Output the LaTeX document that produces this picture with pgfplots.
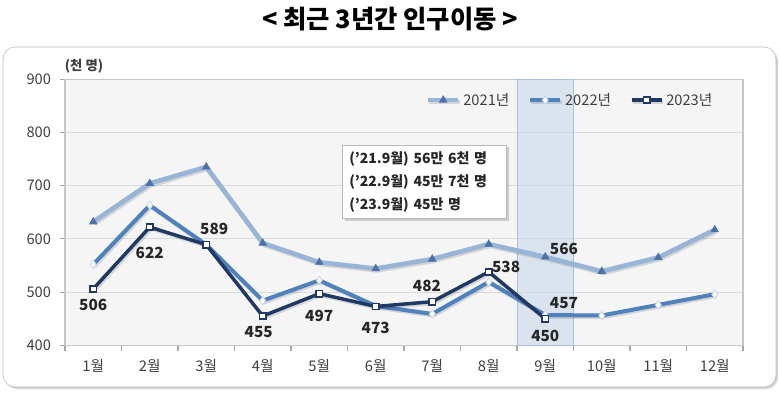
\documentclass[border=0pt]{standalone}
\usepackage{pgfplots}
\pgfplotsset{compat=1.18}
\usepackage{fontspec}
\setmainfont{Noto Sans CJK KR}
\usetikzlibrary{shadows}
\definecolor{c21}{HTML}{98B5D8}
\definecolor{c21m}{HTML}{4A72A8}
\definecolor{c22}{HTML}{4F81BD}
\definecolor{c22f}{HTML}{C5D6EC}
\definecolor{c23}{HTML}{1F3864}
\definecolor{band}{HTML}{C9D7EA}
\definecolor{bandline}{HTML}{A9C0DC}
\definecolor{txt}{HTML}{404040}
\tikzset{lshadow/.style={preaction={draw=black, opacity=0.13, transform canvas={xshift=1pt,yshift=-1.3pt}}}}
\begin{document}
\begin{tikzpicture}
\path[use as bounding box] (0pt,0pt) rectangle (585pt,295.5pt);
\node[font=\bfseries\fontsize{19}{22}\selectfont] at (292.5pt,281.5pt) {< 최근 3년간 인구이동 >};
\draw[gray!55, rounded corners=9pt, fill=white, drop shadow={shadow xshift=1.5pt,shadow yshift=-1.5pt,opacity=0.35}] (2.25pt,260.25pt) rectangle (582pt,5.25pt);
\node[font=\bfseries\fontsize{10}{12}\selectfont, text=txt] at (63pt,245.5pt) {(천 명)};
\begin{axis}[
  at={(48.75pt,36.5pt)}, anchor=south west, scale only axis,
  width=508.5pt, height=199.7pt,
  xmin=0.5, xmax=12.5, ymin=400, ymax=900,
  xtick={1,...,12},
  xticklabels={1월,2월,3월,4월,5월,6월,7월,8월,9월,10월,11월,12월},
  minor xtick={0.5,1.5,...,12.5},
  major x tick style={draw=none},
  minor x tick style={draw=gray!70, line width=0.8pt},
  minor tick length=4pt,
  ytick={400,500,...,900},
  major tick length=4pt,
  y tick style={draw=gray!70, line width=0.8pt},
  tick align=outside,
  tick pos=left,
  ymajorgrids,
  major grid style={gray!30, line width=0.6pt},
  axis line style={gray!45, line width=0.8pt},
  axis background/.style={fill=gray!8},
  /pgf/number format/assume math mode=true,
  tick label style={font=\fontsize{11}{13}\selectfont, text=txt},
  yticklabel style={xshift=-3pt},
  xticklabel style={yshift=-3pt},
  legend style={at={(0.965,0.921)}, anchor=east, draw=none, fill=none,
    font=\fontsize{11}{13}\selectfont, text=txt,
    /tikz/every even column/.append style={column sep=12pt}},
  legend columns=3,
  legend image code/.code={\draw[mark repeat=2,mark phase=2,#1] plot coordinates {(0cm,0cm) (0.4cm,0cm) (0.8cm,0cm)};},
  clip=false,
]
\fill[band, opacity=0.6] (axis cs:8.5,400) rectangle (axis cs:9.5,900);
\draw[bandline, line width=0.6pt] (axis cs:8.5,400) rectangle (axis cs:9.5,900);

\addplot[c21, line width=3.5pt, lshadow, mark=triangle*, mark size=3.2pt,
  mark options={fill=c21m, draw=c21m, line width=0.5pt}]
  coordinates {(1,632) (2,704) (3,735) (4,592) (5,556) (6,544) (7,562) (8,590) (9,566) (10,539) (11,565) (12,617)};
\addlegendentry{2021년}
\addplot[c22, line width=3pt, lshadow, mark=diamond*, mark size=3pt,
  mark options={fill=white, draw=c22f, line width=0.6pt}]
  coordinates {(1,552) (2,663) (3,589) (4,484) (5,522) (6,474) (7,459) (8,519) (9,457) (10,456) (11,476) (12,496)};
\addlegendentry{2022년}
\addplot[c23, line width=2.6pt, lshadow, mark=square*, mark size=2.3pt,
  mark options={fill=white, draw=c23, line width=1.2pt}]
  coordinates {(1,506) (2,622) (3,589) (4,455) (5,497) (6,473) (7,482) (8,538) (9,450)};
\addlegendentry{2023년}

\begin{scope}[every node/.style={font=\bfseries\fontsize{11.5}{13}\selectfont, text=black!85}]
\node[yshift=-12pt] at (axis cs:1,506) {506};
\node[yshift=-19pt] at (axis cs:2,622) {622};
\node[yshift=12pt, xshift=6pt] at (axis cs:3,589) {589};
\node[yshift=-12pt, xshift=-3pt] at (axis cs:4,455) {455};
\node[yshift=-17pt] at (axis cs:5,497) {497};
\node[yshift=-16pt] at (axis cs:6,473) {473};
\node[yshift=12pt, xshift=-4pt] at (axis cs:7,482) {482};
\node[yshift=4pt, xshift=13pt] at (axis cs:8,538) {538};
\node[yshift=-13pt] at (axis cs:9,450) {450};
\node[yshift=6pt, xshift=14pt] at (axis cs:9,566) {566};
\node[yshift=9pt, xshift=14pt] at (axis cs:9,457) {457};
\end{scope}

\node[anchor=north west, draw=gray!55, fill=white,
  drop shadow={shadow xshift=1.5pt,shadow yshift=-1.5pt,opacity=0.35},
  align=left, text width=113pt, inner xsep=5pt, inner ysep=5pt,
  font=\bfseries\fontsize{10.5}{17}\selectfont, text=black!85]
  at (axis cs:5.41,776) {('21.9월) 56만 6천 명\\('22.9월) 45만 7천 명\\('23.9월) 45만 명};
\end{axis}
\end{tikzpicture}
\end{document}
